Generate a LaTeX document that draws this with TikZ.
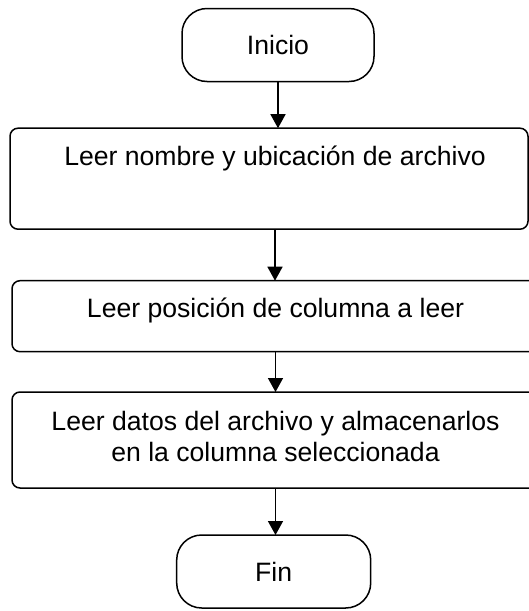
\documentclass[tikz,border=0pt]{standalone}
\usepackage{fontspec}
\setmainfont{Liberation Sans}
\usetikzlibrary{arrows.meta}
\begin{document}
\begin{tikzpicture}[x=1pt,y=-1pt,
  every node/.style={font=\fontsize{26.6}{31}\selectfont, inner sep=0pt, outer sep=0pt},
  term/.style={draw, line width=1.5pt, rounded corners=25pt, minimum height=73pt},
  proc/.style={draw, line width=1.5pt, rounded corners=8pt},
  arr/.style={line width=1.5pt, -{Triangle[width=15pt,length=14pt]}}
]
\useasboundingbox (0,0) rectangle (529,611);
\clip (0,0) rectangle (529,611);
\node[term, minimum width=192pt] (ini) at (278,45) {Inicio};
\node[proc, minimum width=518pt, minimum height=101pt] (b1) at (269,178.7) {};
\node (t1) at (275,158) {Leer nombre y ubicación de archivo};
\node[proc, minimum width=540pt, minimum height=71pt] (b2) at (282,316.2) {};
\node (t2) at (275.5,310) {Leer posición de columna a leer};
\node[proc, minimum width=540pt, minimum height=96pt] (b3) at (282,440) {};
\node[align=center] (t3) at (275.5,436.5) {Leer datos del archivo y almacenarlos\\en la columna seleccionada};
\node[term, minimum width=194pt] (fin) at (273.7,571.5) {Fin};
\draw[arr] (ini.south) -- (ini.south |- b1.north);
\draw[arr] (t1 |- b1.south) -- (t1 |- b2.north);
\draw[arr] (t2 |- b2.south) -- (t2 |- b3.north);
\draw[arr] (t2 |- b3.south) -- (t2 |- fin.north);
\end{tikzpicture}
\end{document}
